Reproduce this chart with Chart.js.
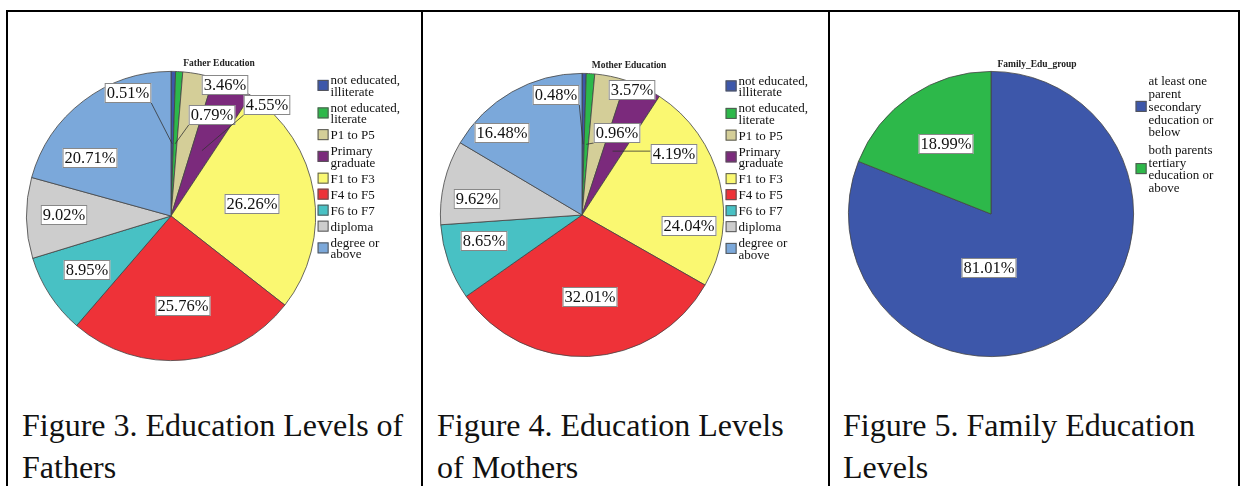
<!DOCTYPE html>
<html>
<head>
<meta charset="utf-8">
<script src="https://cdn.jsdelivr.net/npm/chart.js@4.4.0/dist/chart.umd.min.js"></script>
<style>
  body { margin: 0; background: #fff; width: 1240px; height: 486px; overflow: hidden; position: relative; font-family: "Liberation Serif", "DejaVu Serif", "Times New Roman", serif; }
  .rule { position: absolute; background: #000; z-index: 2; }
  canvas { position: absolute; z-index: 1; }
  .caption { position: absolute; font-size: 32px; line-height: 42px; color: #111; white-space: nowrap; }
</style>
</head>
<body>
<div class="rule" style="left:6px;top:10px;width:1234px;height:2px"></div>
<div class="rule" style="left:6px;top:10px;width:2px;height:476px"></div>
<div class="rule" style="left:421px;top:10px;width:2px;height:476px"></div>
<div class="rule" style="left:828px;top:10px;width:2px;height:476px"></div>
<div class="rule" style="left:1238px;top:10px;width:2px;height:476px"></div>

<canvas id="fatherChart" width="412" height="390" style="left:9px;top:12px"></canvas>
<canvas id="motherChart" width="405" height="390" style="left:423px;top:12px"></canvas>
<canvas id="familyChart" width="408" height="390" style="left:830px;top:12px"></canvas>

<div class="caption" style="left:22px;top:404px">Figure 3. Education Levels of<br>Fathers</div>
<div class="caption" style="left:437px;top:404px">Figure 4. Education Levels<br>of Mothers</div>
<div class="caption" style="left:843px;top:404px">Figure 5. Family Education<br>Levels</div>

<script>
const SERIF = '"Liberation Serif", "DejaVu Serif", "Times New Roman", serif';

// categorias (multi-linha para a legenda)
const eduCats = [
  ["not educated,", "illiterate"],
  ["not educated,", "literate"],
  ["P1 to P5"],
  ["Primary", "graduate"],
  ["F1 to F3"],
  ["F4 to F5"],
  ["F6 to F7"],
  ["diploma"],
  ["degree or", "above"]
];
const fatherPct = [0.51, 0.79, 3.46, 4.55, 26.26, 25.76, 8.95, 9.02, 20.71];
const motherPct = [0.48, 0.96, 3.57, 4.19, 24.04, 32.01, 8.65, 9.62, 16.48];

const familyCats = [
  ["at least one", "parent", "secondary", "education or", "below"],
  ["both parents", "tertiary", "education or", "above"]
];
const familyPct = [81.01, 18.99];

const eduColors = ["#3D57AA", "#2DB84A", "#D4CE98", "#7B2A7C", "#FAF871", "#EE3238", "#48C1C4", "#CDCDCD", "#7BA8DA"];
const familyColors = ["#3D57AA", "#2DB84A"];

// rótulos, legenda e título estilo SPSS
const spssPie = {
  id: 'spssPie',
  afterDraw(chart, args, o) {
    const ctx = chart.ctx;
    const meta = chart.getDatasetMeta(0);
    const first = meta.data[0];
    const cx = first.x, cy = first.y, r = first.outerRadius;
    const ds = chart.data.datasets[0];
    ctx.save();

    // título
    ctx.font = 'bold 9.5px ' + SERIF;
    ctx.fillStyle = '#222';
    ctx.textAlign = 'center';
    ctx.textBaseline = 'middle';
    ctx.fillText(o.title, cx + o.titleDx, cy - r - o.titleDy);

    // legenda
    ctx.font = '13px ' + SERIF;
    ctx.textAlign = 'left';
    let y = cy - r + o.legendTop;
    chart.data.labels.forEach((lab, i) => {
      const lines = Array.isArray(lab) ? lab : [lab];
      const h = lines.length * o.lineH;
      const bx = cx + r + 2;
      const by = y + h / 2 - 6.5;
      ctx.fillStyle = ds.backgroundColor[i];
      ctx.fillRect(bx, by, 11, 11);
      ctx.strokeStyle = '#555';
      ctx.lineWidth = 1;
      ctx.strokeRect(bx + 0.5, by + 0.5, 10, 10);
      ctx.fillStyle = '#111';
      lines.forEach((t, k) => ctx.fillText(t, bx + 13, y + o.lineH * (k + 0.5)));
      y += h + o.gap;
    });

    // rótulos de porcentagem
    ctx.font = '16.5px ' + SERIF;
    ctx.textAlign = 'center';
    meta.data.forEach((arc, i) => {
      const [dx, dy] = o.labelPos[i];
      const lx = cx + dx, ly = cy + dy;
      const txt = ds.data[i].toFixed(2) + '%';
      const w = ctx.measureText(txt).width + 4, h = 20;
      const x0 = lx - w / 2, y0 = ly - h / 2;
      if (o.leaders.includes(i)) {
        const mid = (arc.startAngle + arc.endAngle) / 2;
        const tx = cx + Math.cos(mid) * r * 0.5, ty = cy + Math.sin(mid) * r * 0.5;
        const ex = Math.min(Math.max(tx, x0), x0 + w);
        const ey = Math.min(Math.max(ty, y0), y0 + h);
        ctx.strokeStyle = '#333';
        ctx.lineWidth = 0.8;
        ctx.beginPath();
        ctx.moveTo(ex, ey);
        ctx.lineTo(tx, ty);
        ctx.stroke();
      }
      ctx.fillStyle = '#fff';
      ctx.fillRect(x0, y0, w, h);
      ctx.strokeStyle = '#888';
      ctx.lineWidth = 1;
      ctx.strokeRect(x0 + 0.5, y0 + 0.5, w - 1, h - 1);
      ctx.fillStyle = '#111';
      ctx.fillText(txt, lx, ly + 1);
    });
    ctx.restore();
  }
};

function makePie(id, left, top, cx, cy, r, cats, pct, colors, opts) {
  const cv = document.getElementById(id);
  return new Chart(cv, {
    type: 'pie',
    data: {
      labels: cats,
      datasets: [{
        data: pct,
        backgroundColor: colors,
        borderColor: '#444',
        borderWidth: 0.8
      }]
    },
    options: {
      responsive: false,
      animation: false,
      layout: {
        padding: {
          left: cx - r - left,
          top: cy - r - top,
          right: left + cv.width - (cx + r),
          bottom: top + cv.height - (cy + r)
        }
      },
      plugins: {
        legend: { display: false },
        tooltip: { enabled: false },
        spssPie: opts
      }
    },
    plugins: [spssPie]
  });
}

// Pai
makePie('fatherChart', 9, 12, 171, 216, 145, eduCats, fatherPct, eduColors, {
  title: 'Father Education', titleDx: 48, titleDy: 8,
  legendTop: 3.5, lineH: 11.5, gap: 4.5,
  leaders: [0, 1, 3],
  labelPos: [[-43, -123], [41, -101], [54, -131], [96, -111], [81, -12], [12, 90], [-84, 54], [-107, -1], [-81, -58]]
});

// Mãe
makePie('motherChart', 423, 12, 582, 215, 142, eduCats, motherPct, eduColors, {
  title: 'Mother Education', titleDx: 47, titleDy: 8,
  legendTop: 2, lineH: 11.5, gap: 4.5,
  leaders: [0, 1, 3],
  labelPos: [[-26, -120], [35, -82], [50, -125], [92, -61], [107, 11], [8, 82], [-98, 26], [-105, -16], [-80, -82]]
});

// Família
makePie('familyChart', 830, 12, 991, 214, 143, familyCats, familyPct, familyColors, {
  title: 'Family_Edu_group', titleDx: 46, titleDy: 7,
  legendTop: 4, lineH: 12.8, gap: 4.6,
  leaders: [],
  labelPos: [[-2, 54], [-45, -70]]
});
</script>
</body>
</html>
